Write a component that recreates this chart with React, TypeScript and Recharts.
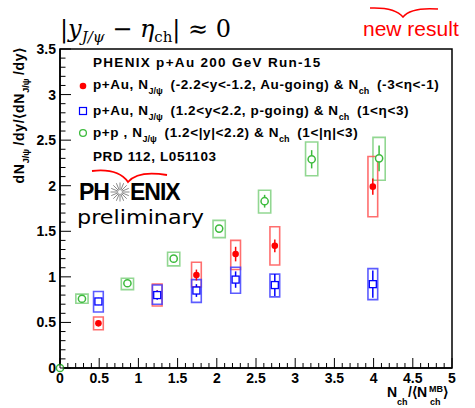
import React from 'react';
import { ScatterChart, Scatter, XAxis, YAxis, ErrorBar, ReferenceArea } from 'recharts';

// p+Au, Au-going (red)
const auX = [0.49, 1.24, 1.74, 2.24, 2.74, 3.99];
const auY = [0.49, 0.81, 1.02, 1.25, 1.34, 1.99];
const auStat = [0.03, 0.04, 0.06, 0.08, 0.07, 0.09];
const auSysLo = [0.42, 0.68, 0.89, 1.08, 1.13, 1.66];
const auSysHi = [0.56, 0.92, 1.16, 1.40, 1.55, 2.32];

// p+Au, p-going (blue)
const pX = [0.49, 1.24, 1.74, 2.24, 2.74, 3.99];
const pY = [0.73, 0.80, 0.85, 0.97, 0.91, 0.92];
const pStat = [0.04, 0.05, 0.07, 0.09, 0.12, 0.15];
const pSysLo = [0.615, 0.70, 0.72, 0.82, 0.78, 0.75];
const pSysHi = [0.84, 0.91, 0.97, 1.105, 1.03, 1.09];

// p+p (green)
const ppX = [0, 0.28, 0.86, 1.45, 2.03, 2.61, 3.21, 4.07];
const ppY = [0, 0.76, 0.93, 1.20, 1.53, 1.83, 2.29, 2.30];
const ppStat = [0, 0.02, 0.02, 0.03, 0.04, 0.07, 0.10, 0.14];
const ppSysLo = [null, 0.71, 0.86, 1.12, 1.43, 1.70, 2.11, 2.06];
const ppSysHi = [null, 0.81, 0.985, 1.27, 1.62, 1.95, 2.48, 2.53];

const xMajor = [0, 0.5, 1, 1.5, 2, 2.5, 3, 3.5, 4, 4.5, 5];
const yMajor = [0, 0.5, 1, 1.5, 2, 2.5, 3, 3.5];

const minorTicks = (max: number) => {
  const out: number[] = [];
  for (let i = 0; i <= max * 10; i++) out.push(i / 10);
  return out;
};
const xTicks = minorTicks(5);
const yTicks = minorTicks(3.5);

const isMajor = (v: number, majors: number[]) => majors.some((m) => Math.abs(m - v) < 1e-6);

const FONT = '"Liberation Sans", Arial, Helvetica, sans-serif';
const RED = '#ff0000';
const BLUE = '#0000ff';
const GREEN = '#3dbb3d';
const RED_BOX = '#ff5555';
const BLUE_BOX = '#4040ff';
const GREEN_BOX = '#7fd07f';
const HW = 0.062;
const HW_PP = 0.078;

const rows = (xs: number[], ys: number[], st: number[]) => xs.map((x, i) => ({ x, y: ys[i], stat: st[i] }));
const auRows = rows(auX, auY, auStat);
const pRows = rows(pX, pY, pStat);
const ppRows = rows(ppX, ppY, ppStat);

const XTick = (props: any) => {
  const { x, y, payload } = props;
  const v = payload.value;
  const major = isMajor(v, xMajor);
  return (
    <g>
      <line x1={x} y1={y} x2={x} y2={y - (major ? 10 : 5)} stroke="#000" strokeWidth={1} />
      {major && (
        <text x={x} y={y + 15} textAnchor="middle" fontSize={14} fontWeight="bold" fontFamily={FONT} fill="#000">
          {String(v)}
        </text>
      )}
    </g>
  );
};

const YTick = (props: any) => {
  const { x, y, payload } = props;
  const v = payload.value;
  const major = isMajor(v, yMajor);
  return (
    <g>
      <line x1={x} y1={y} x2={x + (major ? 11 : 5.5)} y2={y} stroke="#000" strokeWidth={1} />
      {major && (
        <text x={x - 4} y={y + 5} textAnchor="end" fontSize={14} fontWeight="bold" fontFamily={FONT} fill="#000">
          {String(v)}
        </text>
      )}
    </g>
  );
};

const RedDot = (p: any) => <circle cx={p.cx} cy={p.cy} r={3.3} fill={RED} />;
const BlueSquare = (p: any) => (
  <rect x={p.cx - 3.5} y={p.cy - 3.5} width={7} height={7} fill="#fff" stroke={BLUE} strokeWidth={1.3} />
);
const GreenCircle = (p: any) => <circle cx={p.cx} cy={p.cy} r={3.6} fill="#fff" stroke={GREEN} strokeWidth={1.5} />;

const boxes = (xs: number[], lo: (number | null)[], hi: (number | null)[], hw: number, color: string, key: string) =>
  xs.map((x, i) =>
    lo[i] == null ? null : (
      <ReferenceArea
        key={key + i}
        x1={x - hw}
        x2={x + hw}
        y1={lo[i] as number}
        y2={hi[i] as number}
        fill="none"
        stroke={color}
        strokeWidth={1.6}
        strokeOpacity={0.85}
        ifOverflow="visible"
      />
    )
  );

const sub = (t: string) => (
  <>
    <tspan fontSize={9} dy={5} letterSpacing={0}>{t}</tspan>
    <tspan dy={-5}>{'\u2009'}</tspan>
  </>
);

const star = Array.from({ length: 16 }, (_, i) => {
  const a = (i * Math.PI) / 8;
  return (
    <line key={i} x1={120 + 2 * Math.cos(a)} y1={192 + 2 * Math.sin(a)} x2={120 + 9.5 * Math.cos(a)} y2={192 + 9.5 * Math.sin(a)} stroke="#888" strokeWidth={1} />
  );
});

export default function App() {
  return (
    <div style={{ position: 'fixed', left: 0, top: 0, width: 475, height: 408, background: '#fff' }}>
      <ScatterChart width={475} height={408} margin={{ top: 49, right: 23, bottom: 0, left: 0 }}>
        <XAxis
          type="number"
          dataKey="x"
          domain={[0, 5]}
          ticks={xTicks}
          interval={0}
          height={40}
          tickSize={0}
          tickMargin={0}
          tickLine={false}
          axisLine={{ stroke: '#000', strokeWidth: 1.5 }}
          tick={<XTick />}
        />
        <YAxis
          type="number"
          dataKey="y"
          domain={[0, 3.5]}
          ticks={yTicks}
          interval={0}
          width={60}
          tickSize={0}
          tickMargin={0}
          tickLine={false}
          axisLine={{ stroke: '#000', strokeWidth: 1.5 }}
          tick={<YTick />}
        />
        <ReferenceArea x1={0} x2={5} y1={0} y2={3.5} fill="none" stroke="#000" strokeWidth={1.5} />
        {boxes(ppX, ppSysLo, ppSysHi, HW_PP, GREEN_BOX, 'pp')}
        {boxes(auX, auSysLo, auSysHi, HW, RED_BOX, 'au')}
        {boxes(pX, pSysLo, pSysHi, HW, BLUE_BOX, 'p')}
        <Scatter data={ppRows} shape={<GreenCircle />} isAnimationActive={false}>
          <ErrorBar dataKey="stat" direction="y" width={0} stroke={GREEN} strokeWidth={1.5} />
        </Scatter>
        <Scatter data={auRows} shape={<RedDot />} isAnimationActive={false}>
          <ErrorBar dataKey="stat" direction="y" width={0} stroke={RED} strokeWidth={1.5} />
        </Scatter>
        <Scatter data={pRows} shape={<BlueSquare />} isAnimationActive={false}>
          <ErrorBar dataKey="stat" direction="y" width={0} stroke={BLUE} strokeWidth={1.5} />
        </Scatter>
      </ScatterChart>

      <svg width={475} height={408} style={{ position: 'absolute', left: 0, top: 0, pointerEvents: 'none' }}>
        {/* header */}
        <text x={60} y={37} fontSize={24} fontFamily='"DejaVu Serif", "Liberation Serif", serif' fill="#000">
          |<tspan fontStyle="italic">y</tspan>
          <tspan fontSize={15} dy={5} fontStyle="italic">J/ψ</tspan>
          <tspan dy={-5}> − </tspan>
          <tspan fontStyle="italic">η</tspan>
          <tspan fontSize={15} dy={5}>ch</tspan>
          <tspan dy={-5}>| ≈ 0</tspan>
        </text>
        <path d="M370,8 Q395,7 403,17 Q411,7 438,9" fill="none" stroke={RED} strokeWidth={1.5} />
        <text x={363} y={36} fontSize={21} fontFamily={FONT} fill={RED}>new result</text>

        {/* legend */}
        <g fontFamily={FONT} fontWeight="bold" fontSize={13.5} fill="#000" letterSpacing={0.6}>
          <text x={93} y={67} letterSpacing={1.3}>PHENIX p+Au 200 GeV Run-15</text>
          <circle cx={83} cy={86} r={3.3} fill={RED} />
          <text x={93} y={89}>
            p+Au, N{sub('J/ψ')}{' (-2.2<y<-1.2, Au-going) & N'}{sub('ch')}{' (-3<η<-1)'}
          </text>
          <rect x={79.5} y={107.5} width={7} height={7} fill="#fff" stroke={BLUE} strokeWidth={1.2} />
          <text x={93} y={115}>
            p+Au, N{sub('J/ψ')}{' (1.2<y<2.2, p-going) & N'}{sub('ch')}{' (1<η<3)'}
          </text>
          <circle cx={83} cy={133} r={3.4} fill="#fff" stroke={GREEN} strokeWidth={1.3} />
          <text x={93} y={137}>
            p+p , N{sub('J/ψ')}{' (1.2<|y|<2.2) & N'}{sub('ch')}{' (1<|η|<3)'}
          </text>
          <text x={93} y={161}>PRD 112, L051103</text>
        </g>

        {/* logo */}
        <path d="M92,171 Q118,168 128,182 Q138,170 167,175" fill="none" stroke={RED} strokeWidth={1.8} />
        <text x={79} y={200} fontSize={23} fontWeight={900} fontFamily={FONT} fill="#000" letterSpacing={-1}>PH</text>
        {star}
        <text x={130} y={200} fontSize={23} fontWeight={900} fontFamily={FONT} fill="#000" letterSpacing={-1}>ENIX</text>
        <text x={77} y={223.5} fontSize={20} fontFamily='"DejaVu Sans", sans-serif' fill="#000" textLength={127} lengthAdjust="spacingAndGlyphs">preliminary</text>

        {/* axis titles */}
        <text transform="translate(24,47) rotate(-90)" textAnchor="end" fontSize={14} fontWeight="bold" fontFamily={FONT} fill="#000" letterSpacing={0.7}>
          dN{sub('J/ψ')}/dy/⟨dN{sub('J/ψ')}/dy⟩
        </text>
        <g fontFamily={FONT} fontWeight="bold" fill="#000">
          <text x={387} y={397} fontSize={14}>N</text>
          <text x={397} y={405} fontSize={9}>ch</text>
          <text x={408} y={397} fontSize={14}>/⟨N</text>
          <text x={430} y={405} fontSize={9}>ch</text>
          <text x={429} y={392} fontSize={9}>MB</text>
          <text x={443} y={397} fontSize={14}>⟩</text>
        </g>
      </svg>
    </div>
  );
}
